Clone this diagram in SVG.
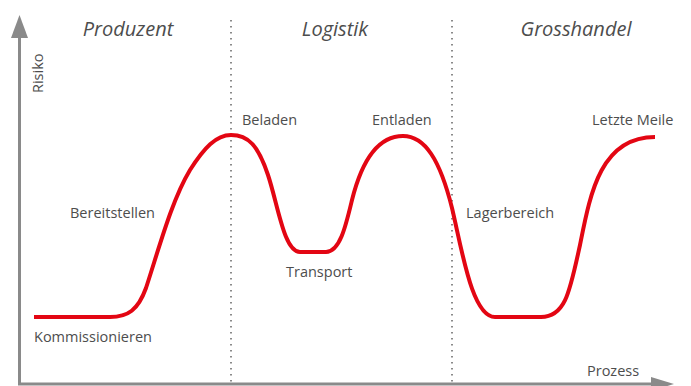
<svg xmlns="http://www.w3.org/2000/svg" width="691" height="386" viewBox="0 0 691 386">
<style>
.hdr{font-family:"Open Sans","Liberation Sans",sans-serif;font-style:italic;font-size:20px;fill:#4d4d4d}
.lbl{font-family:"Open Sans","Liberation Sans",sans-serif;font-size:14.5px;fill:#4d4d4d}
.sep{stroke:#8a8a8a;stroke-width:2;stroke-dasharray:1.5 4.5;fill:none}
.axis{stroke:#8a8a8a;stroke-width:3;fill:none}
.curve{stroke:#e30613;stroke-width:4;fill:none;stroke-linecap:butt;stroke-linejoin:round}
</style>
<rect width="691" height="386" fill="#fff"/>
<g id="separators">
<line class="sep" x1="231" y1="20" x2="231" y2="386"/>
<line class="sep" x1="452" y1="20" x2="452" y2="386"/>
</g>
<g id="axes">
<line class="axis" x1="19.5" y1="36" x2="19.5" y2="384"/>
<polygon points="11,38 28,38 19.5,15" fill="#8a8a8a"/>
<line class="axis" x1="18" y1="384" x2="653" y2="384"/>
<polygon points="651,377 651,391 674,384" fill="#8a8a8a"/>
<text class="lbl" transform="translate(43,93) rotate(-90)">Risiko</text>
<text class="lbl" x="587" y="376">Prozess</text>
</g>
<g id="headers">
<text class="hdr" x="128" y="36" text-anchor="middle">Produzent</text>
<text class="hdr" x="335" y="36" text-anchor="middle">Logistik</text>
<text class="hdr" x="576" y="36" text-anchor="middle">Grosshandel</text>
</g>
<g id="curve">
<path class="curve" d="M34,317 H110 C128,317 138,310 146,288 C160,245 172,200 190,170 C204,148 216,135 231,135 C248,135 258,145 268,175 C278,205 284,252 300,252 H326 C340,252 346,225 352,200 C362,160 378,136 403,136 C425,136 440,160 452,208 C462,250 472,317 495,317 H541 C566,317 570,290 580,245 C590,195 600,137 655,137"/>
</g>
<g id="labels">
<text class="lbl" x="34" y="342">Kommissionieren</text>
<text class="lbl" x="70" y="218">Bereitstellen</text>
<text class="lbl" x="242" y="125">Beladen</text>
<text class="lbl" x="286" y="277">Transport</text>
<text class="lbl" x="372" y="125">Entladen</text>
<text class="lbl" x="466" y="218">Lagerbereich</text>
<text class="lbl" x="592" y="125">Letzte Meile</text>
</g>
</svg>
